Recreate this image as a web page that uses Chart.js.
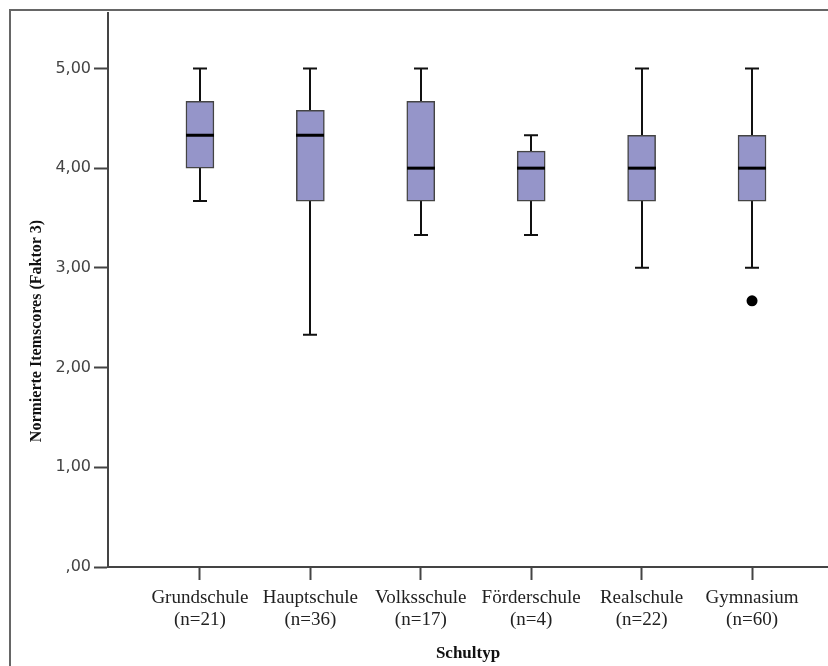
<!DOCTYPE html>
<html>
<head>
<meta charset="utf-8">
<script src="https://cdn.jsdelivr.net/npm/chart.js@4.4.1/dist/chart.umd.min.js"></script>
<style>
  html, body { margin: 0; padding: 0; background: #fff; }
  canvas { display: block; }
</style>
</head>
<body>
<canvas id="boxChart" width="828" height="666"></canvas>
<script>
// Schultyp categories and group sizes
var schultyp = ['Grundschule', 'Hauptschule', 'Volksschule', 'Förderschule', 'Realschule', 'Gymnasium'];
var gruppenN = [21, 36, 17, 4, 22, 60];

// five-number summaries per group
var whiskerLow  = [3.67, 2.33, 3.33, 3.33, 3.00, 3.00];
var quartil1    = [4.00, 3.67, 3.67, 3.67, 3.67, 3.67];
var median      = [4.33, 4.33, 4.00, 4.00, 4.00, 4.00];
var quartil3    = [4.67, 4.58, 4.67, 4.17, 4.33, 4.33];
var whiskerHigh = [5.00, 5.00, 5.00, 4.33, 5.00, 5.00];

// outliers as [group index, value]
var ausreisser = [[5, 2.67]];

var yTickValues = [0, 1, 2, 3, 4, 5];
var yTickLabels = [',00', '1,00', '2,00', '3,00', '4,00', '5,00'];

var boxFill = 'rgb(149,149,201)';
var serif = "'Liberation Serif', 'Times New Roman', serif";

var boxData = schultyp.map(function (s, i) {
    return {x: i + 1, y: [quartil1[i], quartil3[i]]};
});
var outlierData = ausreisser.map(function (o) {
    return {x: o[0] + 1, y: o[1]};
});

// whiskers behind the boxes, medians on top, plus the outer frame
var boxplotParts = {
    id: 'boxplotParts',
    beforeDraw: function (chart) {
        var ctx = chart.ctx;
        ctx.save();
        ctx.strokeStyle = '#666';
        ctx.lineWidth = 2;
        ctx.beginPath();
        ctx.moveTo(10, 666);
        ctx.lineTo(10, 10);
        ctx.lineTo(828, 10);
        ctx.stroke();
        ctx.restore();
    },
    beforeDatasetsDraw: function (chart) {
        var ctx = chart.ctx, xs = chart.scales.x, ys = chart.scales.y;
        ctx.save();
        ctx.strokeStyle = '#111';
        ctx.lineWidth = 2;
        for (var i = 0; i < schultyp.length; i++) {
            var px = Math.round(xs.getPixelForValue(i + 1));
            var lo = ys.getPixelForValue(whiskerLow[i]);
            var hi = ys.getPixelForValue(whiskerHigh[i]);
            ctx.beginPath();
            ctx.moveTo(px, lo);
            ctx.lineTo(px, hi);
            ctx.moveTo(px - 7, lo);
            ctx.lineTo(px + 7, lo);
            ctx.moveTo(px - 7, hi);
            ctx.lineTo(px + 7, hi);
            ctx.stroke();
        }
        ctx.restore();
    },
    afterDatasetsDraw: function (chart) {
        var ctx = chart.ctx, xs = chart.scales.x, ys = chart.scales.y;
        ctx.save();
        ctx.strokeStyle = '#000';
        ctx.lineWidth = 3;
        for (var i = 0; i < schultyp.length; i++) {
            var px = Math.round(xs.getPixelForValue(i + 1));
            var py = ys.getPixelForValue(median[i]);
            ctx.beginPath();
            ctx.moveTo(px - 14, py);
            ctx.lineTo(px + 14, py);
            ctx.stroke();
        }
        ctx.restore();
    },
    afterDraw: function (chart) {
        var ctx = chart.ctx;
        ctx.save();
        ctx.translate(37, 331);
        ctx.rotate(-Math.PI / 2);
        ctx.font = 'bold 16px ' + serif;
        ctx.fillStyle = '#111';
        ctx.textAlign = 'center';
        ctx.textBaseline = 'middle';
        ctx.fillText('Normierte Itemscores (Faktor 3)', 0, 0);
        ctx.restore();
    }
};

new Chart(document.getElementById('boxChart').getContext('2d'), {
    data: {
        datasets: [{
            type: 'bar',
            data: boxData,
            backgroundColor: boxFill,
            borderColor: '#444',
            borderWidth: 1.5,
            borderSkipped: false,
            barThickness: 28
        }, {
            type: 'scatter',
            data: outlierData,
            pointRadius: 5.5,
            pointBackgroundColor: '#000',
            pointBorderWidth: 0
        }]
    },
    options: {
        responsive: false,
        animation: false,
        devicePixelRatio: 1,
        layout: {autoPadding: false, padding: {top: 10, left: 0, right: 0, bottom: 0}},
        plugins: {
            legend: {display: false},
            tooltip: {enabled: false}
        },
        scales: {
            x: {
                type: 'linear',
                offset: false,
                min: 0.1674,
                max: 6.688,
                afterBuildTicks: function (scale) {
                    scale.ticks = schultyp.map(function (s, i) { return {value: i + 1}; });
                },
                afterFit: function (scale) {
                    scale.height = 99;
                    scale.paddingRight = 0;
                    scale.paddingLeft = 0;
                },
                ticks: {
                    autoSkip: false,
                    maxRotation: 0,
                    padding: 7,
                    color: '#222',
                    font: {family: serif, size: 19, lineHeight: 1.15},
                    callback: function (v) {
                        var i = Math.round(v) - 1;
                        return [schultyp[i], '(n=' + gruppenN[i] + ')'];
                    }
                },
                grid: {
                    offset: false,
                    drawOnChartArea: false,
                    drawTicks: true,
                    tickLength: 13,
                    tickWidth: 2,
                    tickColor: '#444'
                },
                border: {display: true, color: '#444', width: 2},
                title: {
                    display: true,
                    text: 'Schultyp',
                    color: '#111',
                    font: {family: serif, size: 17, weight: 'bold'},
                    padding: {top: 0, bottom: 2}
                }
            },
            y: {
                min: 0,
                max: 5.56,
                afterBuildTicks: function (scale) {
                    scale.ticks = yTickValues.map(function (v) { return {value: v}; });
                },
                afterFit: function (scale) { scale.width = 108; },
                ticks: {
                    padding: 3,
                    color: '#444',
                    font: {family: "'DejaVu Sans', sans-serif", size: 16},
                    callback: function (v) {
                        return yTickLabels[yTickValues.indexOf(v)];
                    }
                },
                grid: {
                    drawOnChartArea: false,
                    drawTicks: true,
                    tickLength: 14,
                    tickWidth: 2,
                    tickColor: '#444'
                },
                border: {display: true, color: '#444', width: 2}
            }
        }
    },
    plugins: [boxplotParts]
});
</script>
</body>
</html>
